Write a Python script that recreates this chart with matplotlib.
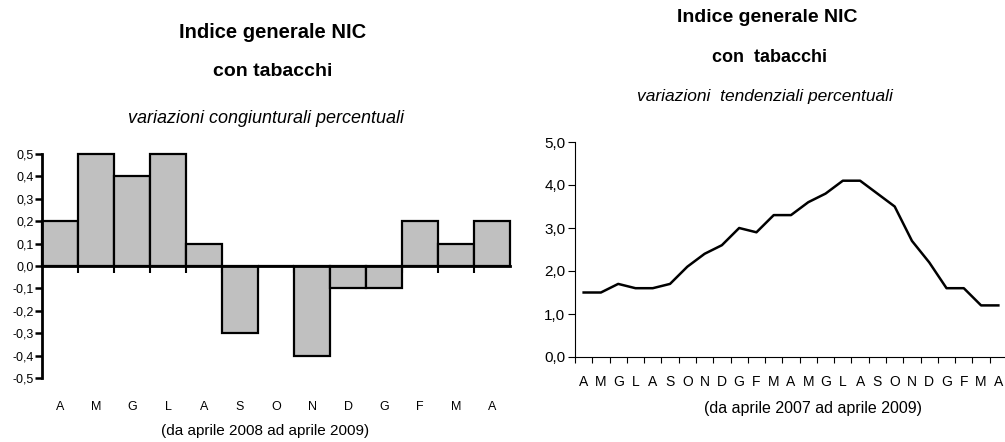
import numpy as np
import matplotlib
matplotlib.use("Agg")
import matplotlib.pyplot as plt

plt.rcParams['font.family'] = ['Liberation Sans Narrow', 'Liberation Sans', 'DejaVu Sans']

# congiunturali (aprile 2008 - aprile 2009)
mesi_cong = ["A", "M", "G", "L", "A", "S", "O", "N", "D", "G", "F", "M", "A"]
var_cong = [0.2, 0.5, 0.4, 0.5, 0.1, -0.3, 0.0, -0.4, -0.1, -0.1, 0.2, 0.1, 0.2]

# tendenziali (aprile 2007 - aprile 2009)
mesi_tend = ["A", "M", "G", "L", "A", "S", "O", "N", "D", "G", "F", "M",
             "A", "M", "G", "L", "A", "S", "O", "N", "D", "G", "F", "M", "A"]
var_tend = [1.5, 1.5, 1.7, 1.6, 1.6, 1.7, 2.1, 2.4, 2.6, 3.0, 2.9, 3.3,
            3.3, 3.6, 3.8, 4.1, 4.1, 3.8, 3.5, 2.7, 2.2, 1.6, 1.6, 1.2, 1.2]

W, H = 1005, 442
fig = plt.figure(figsize=(W / 100, H / 100), dpi=100)


def px(x, y):
    return x / W, 1 - y / H


def comma(v):
    if abs(v) < 1e-9:
        v = 0.0
    return f"{v:.1f}".replace(".", ",")


# ---- left: bar chart ----
ax1 = fig.add_axes([42 / W, 1 - 378 / H, 468 / W, 224 / H])
x1 = np.arange(len(var_cong))
ax1.bar(x1, var_cong, width=1.0, color="#c0c0c0", edgecolor="black",
        linewidth=1.6, clip_on=False, zorder=2)
ax1.set_xlim(-0.5, len(var_cong) - 0.5)
ax1.set_ylim(-0.5, 0.5)
yt1 = np.round(np.arange(-0.5, 0.51, 0.1), 1)
ax1.set_yticks(yt1)
ax1.set_yticklabels([comma(v) for v in yt1], fontsize=9)
ax1.tick_params(axis="y", direction="out", length=5, width=1.8, pad=1)
for s in ["top", "right"]:
    ax1.spines[s].set_visible(False)
ax1.spines["left"].set_linewidth(2)
ax1.spines["bottom"].set_position(("data", 0))
ax1.spines["bottom"].set_linewidth(2)
ax1.spines["bottom"].set_zorder(3)
ax1.set_xticks([])
ax1.set_xticks(np.arange(0.5, len(var_cong) - 1, 1.0), minor=True)
ax1.tick_params(axis="x", which="minor", direction="out", length=5, width=1.5)
for xi, m in zip(x1, mesi_cong):
    ax1.text(xi, -0.13, m, transform=ax1.get_xaxis_transform(),
             ha="center", va="center", fontsize=9)

fig.text(*px(273, 33), "Indice generale NIC", ha="center", va="center",
         fontsize=14.5, fontweight="bold")
fig.text(*px(273, 72), "con tabacchi", ha="center", va="center",
         fontsize=14, fontweight="bold")
fig.text(*px(266, 119), "variazioni congiunturali percentuali", ha="center",
         va="center", fontsize=13, style="italic")
fig.text(*px(265, 431), "(da aprile 2008 ad aprile 2009)", ha="center",
         va="center", fontsize=11)

# ---- right: line chart ----
ax2 = fig.add_axes([575 / W, 1 - 357 / H, 432 / W, 215 / H])
x2 = np.arange(len(var_tend))
ax2.plot(x2, var_tend, color="black", linewidth=1.8, clip_on=False)
ax2.set_xlim(-0.5, len(var_tend) - 0.5)
ax2.set_ylim(0, 5)
yt2 = np.arange(0, 6, 1.0)
ax2.set_yticks(yt2)
ax2.set_yticklabels([comma(v) for v in yt2], fontsize=11)
ax2.tick_params(axis="y", direction="out", length=5, width=0.8, pad=2)
for s in ["top", "right"]:
    ax2.spines[s].set_visible(False)
ax2.spines["left"].set_linewidth(0.8)
ax2.spines["bottom"].set_linewidth(0.8)
ax2.set_xticks(x2)
ax2.set_xticklabels(mesi_tend, fontsize=10)
ax2.tick_params(axis="x", which="major", length=0, pad=13)
ax2.set_xticks(np.arange(-0.5, len(var_tend), 1.0), minor=True)
ax2.tick_params(axis="x", which="minor", direction="out", length=4, width=0.8)

fig.text(*px(767, 18), "Indice generale NIC", ha="center", va="center",
         fontsize=14, fontweight="bold")
fig.text(*px(770, 57), "con  tabacchi", ha="center", va="center",
         fontsize=13, fontweight="bold")
fig.text(*px(765, 97), "variazioni  tendenziali percentuali", ha="center",
         va="center", fontsize=12.5, style="italic")
fig.text(*px(813, 408), "(da aprile 2007 ad aprile 2009)", ha="center",
         va="center", fontsize=11.5)

fig.savefig("out.png", dpi=100)
